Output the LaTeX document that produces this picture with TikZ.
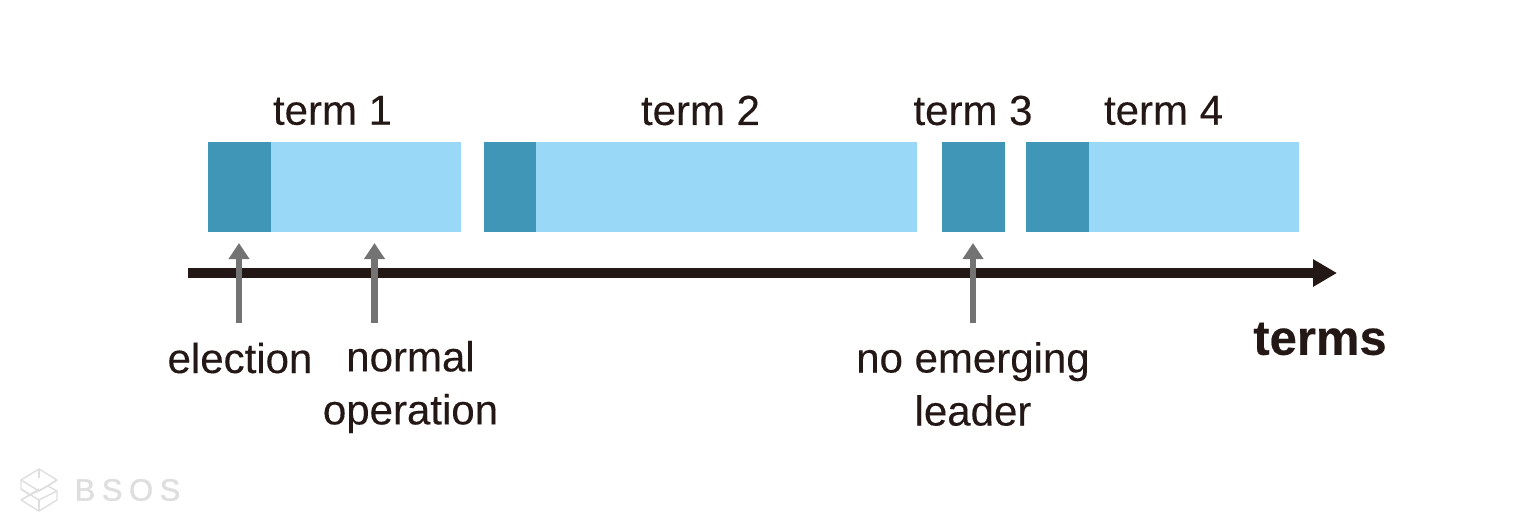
\documentclass[tikz,border=0pt]{standalone}
\usepackage{fontspec}
\setmainfont[FakeBold=0.25]{Liberation Sans}
\newfontfamily\termsfont[FakeBold=0.4]{Liberation Sans Bold}
\newfontfamily\logofont[FakeBold=1.2]{Liberation Sans}
\usetikzlibrary{arrows.meta}
\definecolor{dk}{HTML}{3F96B6}
\definecolor{lt}{HTML}{99D8F6}
\definecolor{ink}{HTML}{231815}
\definecolor{gy}{HTML}{737373}
\definecolor{logo}{HTML}{DEDEDE}
\tikzset{
 x=1pt,y=-1pt,
 lbl/.style={font=\fontsize{42}{53}\selectfont,text=ink,inner sep=0pt,align=center},
 axis/.style={draw=ink,line width=10pt,-{Triangle[length=24pt,width=26pt]}},
 ptr/.style={draw=gy,line width=6.3pt,-{Triangle[length=16pt,width=20pt]}},
 logoline/.style={draw=logo,line width=1.4pt,line join=round}
}
\begin{document}
\begin{tikzpicture}
\useasboundingbox (0,0) rectangle (1525,531);
\fill[lt] (208,142) rectangle (461,232);
\fill[dk] (208,142) rectangle (271,232);
\fill[lt] (484,142) rectangle (917,232);
\fill[dk] (484,142) rectangle (536,232);
\fill[dk] (942,142) rectangle (1005,232);
\fill[lt] (1026,142) rectangle (1299,232);
\fill[dk] (1026,142) rectangle (1089,232);
\coordinate (as) at (188,273);
\coordinate (ae) at (1337,273);
\draw[axis] (as) -- (ae);
\coordinate (p1a) at (239,323); \coordinate (p1b) at (239,243);
\coordinate (p2a) at (374.5,323); \coordinate (p2b) at (374.5,243);
\coordinate (p3a) at (973,323); \coordinate (p3b) at (973,243);
\draw[ptr] (p1a) -- (p1b);
\draw[ptr] (p2a) -- (p2b);
\draw[ptr] (p3a) -- (p3b);
\node[lbl] (t1) at (332.5,110.5) {term 1};
\node[lbl] (t2) at (700.5,110.5) {term 2};
\node[lbl] (t3) at (973,110.5) {term 3};
\node[lbl] (t4) at (1163.5,110.5) {term 4};
\node[lbl] (l1) at (240,358) {election};
\node[lbl] (l2) at (410.5,387) {normal\\operation};
\node[lbl] (l3) at (973,384) {no emerging\\leader};
\node[lbl,font=\fontsize{49}{50}\selectfont\termsfont] (tt) at (1320,339) {terms};
\draw[logoline] (39,469) -- (57,480) -- (48,486) -- (57,491) -- (57,500) -- (39,511) -- (21,500) -- (30,495) -- (21,489) -- (21,480) -- cycle;
\draw[logoline] (21,480) -- (39,491) -- (57,480);
\draw[logoline] (21,489) -- (39,500) -- (57,491);
\draw[logoline] (21,500) -- (39,489) (30,495) -- (48,486);
\draw[logoline] (39,469) -- (39,478) (39,500) -- (39,511);
\node[font=\fontsize{31}{31}\selectfont\logofont,text=logo,inner sep=0pt] (bs) at (127.5,490) {B\hspace{6.5pt}S\hspace{6.5pt}O\hspace{6.5pt}S};
\end{tikzpicture}
\end{document}
